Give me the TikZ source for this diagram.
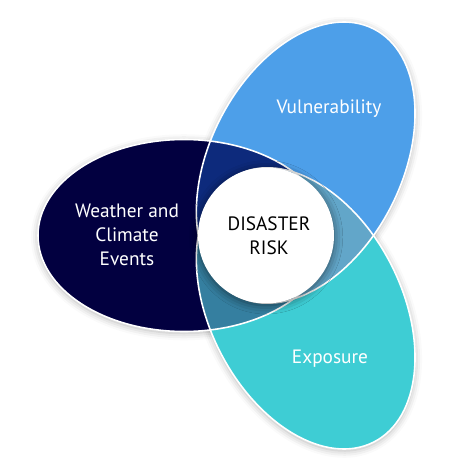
\documentclass[tikz,border=0pt]{standalone}
\usepackage{fontspec}
\setmainfont{PT Sans}
\usetikzlibrary{shadows.blur}

\definecolor{navyfill}{HTML}{020040}
\definecolor{bluefill}{HTML}{4D9FE9}
\definecolor{tealfill}{HTML}{3ECDD4}
\definecolor{navyblue}{HTML}{0D2A7C}
\definecolor{navyteal}{HTML}{357FA0}
\definecolor{blueteal}{HTML}{62A6C9}

% the three petals (pixel units, y up)
\newcommand{\navypetal}{(184,235.5) ellipse [x radius=146, y radius=96]}
\newcommand{\bluepetal}{(305.7,308.4) ellipse [x radius=150, y radius=96, rotate=63]}
\newcommand{\tealpetal}{(305.7,162.6) ellipse [x radius=150, y radius=96, rotate=-63]}

\tikzset{
  petalglow/.style={blur shadow={shadow xshift=0pt, shadow yshift=-1pt,
      shadow blur radius=4pt, shadow opacity=30}},
  petaledge/.style={draw=white, line width=0.9pt},
  petaltext/.style={text=white, align=center, font=\fontsize{11}{13.6}\selectfont},
}

\begin{document}
\begin{tikzpicture}[x=0.02cm, y=0.02cm]
  \useasboundingbox (0,0) rectangle (470,471);
  % shadows first, then fills
  \path[petalglow] \navypetal;
  \path[petalglow] \bluepetal;
  \path[petalglow] \tealpetal;
  \fill[navyfill] \navypetal;
  \fill[bluefill] \bluepetal;
  \fill[tealfill] \tealpetal;
  % overlaps
  \begin{scope}
    \clip \navypetal;
    \fill[navyblue] \bluepetal;
    \fill[navyteal] \tealpetal;
  \end{scope}
  \begin{scope}
    \clip \bluepetal;
    \fill[blueteal] \tealpetal;
  \end{scope}
  \draw[petaledge] \navypetal;
  \draw[petaledge] \bluepetal;
  \draw[petaledge] \tealpetal;

  \node[circle, fill=white, minimum size=2.72cm, inner sep=0pt,
        blur shadow={shadow xshift=0pt, shadow yshift=-1pt, shadow blur radius=5pt,
        shadow opacity=55}] (risk) at (266,235.5) {};
  \node[align=center, font=\fontsize{11}{13.6}\selectfont] (risktext) at (269,235) {DISASTER\\RISK};

  \node[petaltext] (hazard) at (127,236) {Weather and\\Climate\\Events};
  \node[petaltext] (vuln) at (329,362) {Vulnerability};
  \node[petaltext] (expo) at (330,112) {Exposure};
\end{tikzpicture}
\end{document}
